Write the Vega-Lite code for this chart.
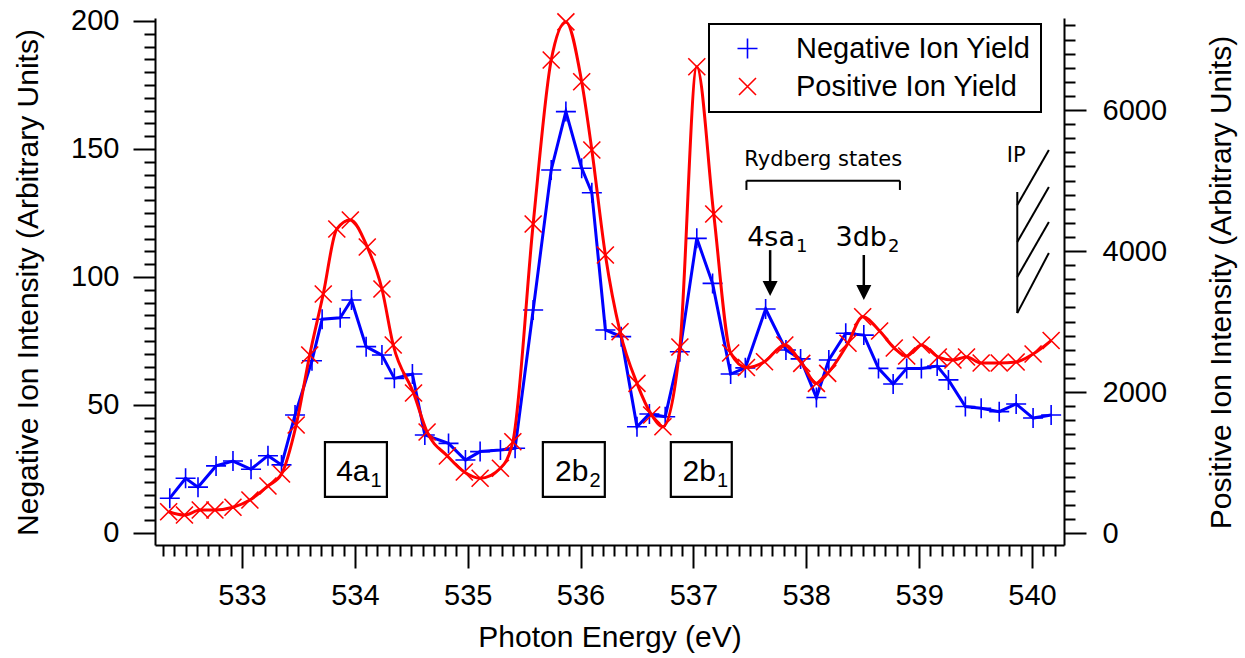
{
  "$schema": "https://vega.github.io/schema/vega-lite/v6.json",
  "width": 909,
  "height": 527,
  "autosize": {"type": "none"},
  "padding": {"left": 155, "top": 18, "right": 181, "bottom": 113},
  "background": "white",
  "config": {
    "view": {"stroke": null},
    "font": "Liberation Sans",
    "legend": {"strokeWidth": 2}
  },
  "datasets": {
    "neg": [
      {"E": 532.36, "I": 13.6}, {"E": 532.50, "I": 21.4}, {"E": 532.61, "I": 17.9}, {"E": 532.77, "I": 26.2},
      {"E": 532.92, "I": 28.1}, {"E": 533.08, "I": 24.9}, {"E": 533.23, "I": 30.2}, {"E": 533.35, "I": 26.6},
      {"E": 533.47, "I": 46.1}, {"E": 533.62, "I": 67.3}, {"E": 533.71, "I": 83.5}, {"E": 533.87, "I": 84.1},
      {"E": 533.97, "I": 91.0}, {"E": 534.10, "I": 72.8}, {"E": 534.24, "I": 69.5}, {"E": 534.35, "I": 60.4},
      {"E": 534.51, "I": 62.1}, {"E": 534.62, "I": 38.3}, {"E": 534.83, "I": 35.0}, {"E": 534.98, "I": 28.5},
      {"E": 535.11, "I": 31.8}, {"E": 535.29, "I": 32.4}, {"E": 535.42, "I": 33.1}, {"E": 535.58, "I": 87.1},
      {"E": 535.74, "I": 141.8}, {"E": 535.87, "I": 164.6}, {"E": 536.01, "I": 142.5}, {"E": 536.10, "I": 132.9},
      {"E": 536.22, "I": 79.3}, {"E": 536.36, "I": 76.7}, {"E": 536.50, "I": 41.5}, {"E": 536.61, "I": 46.5},
      {"E": 536.75, "I": 45.4}, {"E": 536.88, "I": 70.8}, {"E": 537.03, "I": 115.1}, {"E": 537.17, "I": 97.5},
      {"E": 537.33, "I": 62.1}, {"E": 537.46, "I": 64.5}, {"E": 537.64, "I": 87.5}, {"E": 537.82, "I": 71.5},
      {"E": 537.95, "I": 68.0}, {"E": 538.09, "I": 52.9}, {"E": 538.20, "I": 67.6}, {"E": 538.35, "I": 78.0},
      {"E": 538.51, "I": 77.3}, {"E": 538.64, "I": 64.3}, {"E": 538.77, "I": 58.2}, {"E": 538.89, "I": 64.3},
      {"E": 539.02, "I": 64.3}, {"E": 539.16, "I": 65.2}, {"E": 539.26, "I": 59.8}, {"E": 539.41, "I": 49.4},
      {"E": 539.55, "I": 48.7}, {"E": 539.71, "I": 47.4}, {"E": 539.86, "I": 50.4}, {"E": 540.01, "I": 44.9},
      {"E": 540.17, "I": 46.1}
    ],
    "pos": [
      {"E": 532.35, "I": 302}, {"E": 532.49, "I": 255}, {"E": 532.63, "I": 326}, {"E": 532.76, "I": 326},
      {"E": 532.92, "I": 365}, {"E": 533.07, "I": 468}, {"E": 533.23, "I": 667}, {"E": 533.35, "I": 837},
      {"E": 533.48, "I": 1532}, {"E": 533.60, "I": 2525}, {"E": 533.72, "I": 3390}, {"E": 533.84, "I": 4312},
      {"E": 533.96, "I": 4440}, {"E": 534.11, "I": 4057}, {"E": 534.24, "I": 3461}, {"E": 534.34, "I": 2667},
      {"E": 534.52, "I": 1986}, {"E": 534.64, "I": 1433}, {"E": 534.82, "I": 1092}, {"E": 534.97, "I": 865},
      {"E": 535.11, "I": 776}, {"E": 535.29, "I": 918}, {"E": 535.40, "I": 1295}, {"E": 535.58, "I": 4383},
      {"E": 535.74, "I": 6709}, {"E": 535.87, "I": 7250}, {"E": 536.01, "I": 6401}, {"E": 536.10, "I": 5433},
      {"E": 536.22, "I": 3943}, {"E": 536.35, "I": 2855}, {"E": 536.50, "I": 2123}, {"E": 536.63, "I": 1674},
      {"E": 536.73, "I": 1508}, {"E": 536.88, "I": 2638}, {"E": 537.03, "I": 6614}, {"E": 537.18, "I": 4525},
      {"E": 537.33, "I": 2553}, {"E": 537.47, "I": 2348}, {"E": 537.63, "I": 2430}, {"E": 537.81, "I": 2667},
      {"E": 537.96, "I": 2407}, {"E": 538.09, "I": 2123}, {"E": 538.19, "I": 2265}, {"E": 538.37, "I": 2691},
      {"E": 538.50, "I": 3068}, {"E": 538.65, "I": 2865}, {"E": 538.78, "I": 2624}, {"E": 538.89, "I": 2511},
      {"E": 539.02, "I": 2667}, {"E": 539.17, "I": 2496}, {"E": 539.30, "I": 2454}, {"E": 539.42, "I": 2496},
      {"E": 539.55, "I": 2411}, {"E": 539.71, "I": 2411}, {"E": 539.86, "I": 2426}, {"E": 540.01, "I": 2539},
      {"E": 540.17, "I": 2730}
    ],
    "boxes": [
      {"x1": 533.735, "x2": 534.284, "y1": 14.1, "y2": 35.5, "anchor": 534.13, "base": 20.3, "main": "4a", "sub": "1"},
      {"x1": 535.666, "x2": 536.215, "y1": 14.1, "y2": 35.5, "anchor": 536.07, "base": 20.3, "main": "2b", "sub": "2"},
      {"x1": 536.800, "x2": 537.340, "y1": 14.1, "y2": 35.5, "anchor": 537.20, "base": 20.3, "main": "2b", "sub": "1"}
    ],
    "states": [
      {"anchor": 537.90, "base": 112.1, "main": "4sa", "sub": "1"},
      {"anchor": 538.715, "base": 112.1, "main": "3db", "sub": "2"}
    ],
    "notes": [
      {"E": 538.15, "v": 143.5, "t": "Rydberg states"},
      {"E": 539.86, "v": 144.9, "t": "IP"}
    ],
    "thin": [
      {"x1": 537.47, "x2": 538.83, "y1": 137.6, "y2": 137.6},
      {"x1": 537.47, "x2": 537.47, "y1": 137.6, "y2": 134.0},
      {"x1": 538.83, "x2": 538.83, "y1": 137.6, "y2": 134.0},
      {"x1": 539.87, "x2": 539.87, "y1": 133.2, "y2": 85.9},
      {"x1": 539.87, "x2": 540.15, "y1": 128.1, "y2": 149.6},
      {"x1": 539.87, "x2": 540.15, "y1": 113.7, "y2": 135.2},
      {"x1": 539.87, "x2": 540.15, "y1": 100.0, "y2": 121.5},
      {"x1": 539.87, "x2": 540.15, "y1": 85.9, "y2": 109.4}
    ],
    "shafts": [
      {"x1": 537.68, "x2": 537.68, "y1": 110.5, "y2": 97.0},
      {"x1": 538.51, "x2": 538.51, "y1": 108.6, "y2": 95.9}
    ],
    "heads": [
      {"E": 537.68, "v": 95.5},
      {"E": 538.51, "v": 93.9}
    ]
  },
  "layer": [
    {
      "data": {"name": "neg"},
      "mark": {"type": "line", "color": "#0000ff", "strokeWidth": 3},
      "encoding": {
        "x": {
          "field": "E", "type": "quantitative",
          "scale": {"domain": [532.229, 540.284], "nice": false, "zero": false},
          "axis": {
            "orient": "bottom", "values": [533, 534, 535, 536, 537, 538, 539, 540], "format": "d",
            "grid": false, "tickSize": 23, "tickWidth": 2, "tickColor": "black",
            "domainColor": "black", "domainWidth": 2,
            "labelFont": "Liberation Sans", "labelFontSize": 29, "labelColor": "black", "labelPadding": 13,
            "labelFlush": false, "labelOverlap": false, "labelBound": false,
            "title": "Photon Energy (eV)", "titleFont": "Liberation Sans", "titleFontSize": 30,
            "titleFontWeight": "normal", "titleColor": "black",
            "titleX": 454.5, "titleY": 92, "titleAlign": "center", "titleBaseline": "middle"
          }
        },
        "y": {
          "field": "I", "type": "quantitative",
          "scale": {"domain": [-4.69, 201.17], "nice": false, "zero": false},
          "axis": {
            "orient": "left", "values": [0, 50, 100, 150, 200], "format": "d",
            "grid": false, "tickSize": 22, "tickWidth": 2, "tickColor": "black",
            "domainColor": "black", "domainWidth": 2,
            "labelFont": "Liberation Sans", "labelFontSize": 29, "labelColor": "black", "labelPadding": 14,
            "labelFlush": false, "labelOverlap": false, "labelBound": false,
            "title": "Negative Ion Intensity (Arbitrary Units)", "titleFont": "Liberation Sans", "titleFontSize": 30,
            "titleFontWeight": "normal", "titleColor": "black",
            "titleX": -127, "titleY": 264, "titleAngle": 270, "titleAlign": "center", "titleBaseline": "middle"
          }
        }
      }
    },
    {
      "data": {"name": "neg"},
      "mark": {"type": "point", "filled": false, "size": 400, "strokeWidth": 1.6, "opacity": 1},
      "encoding": {
        "x": {
          "field": "E", "type": "quantitative",
          "scale": {"domain": [532.229, 540.284], "nice": false, "zero": false},
          "axis": {
            "orient": "bottom", "labels": false, "domain": false, "grid": false, "title": null,
            "tickSize": 11, "tickWidth": 2, "tickColor": "black",
            "values": [532.3, 532.4, 532.5, 532.6, 532.7, 532.8, 532.9,
              533.1, 533.2, 533.3, 533.4, 533.5, 533.6, 533.7, 533.8, 533.9,
              534.1, 534.2, 534.3, 534.4, 534.5, 534.6, 534.7, 534.8, 534.9,
              535.1, 535.2, 535.3, 535.4, 535.5, 535.6, 535.7, 535.8, 535.9,
              536.1, 536.2, 536.3, 536.4, 536.5, 536.6, 536.7, 536.8, 536.9,
              537.1, 537.2, 537.3, 537.4, 537.5, 537.6, 537.7, 537.8, 537.9,
              538.1, 538.2, 538.3, 538.4, 538.5, 538.6, 538.7, 538.8, 538.9,
              539.1, 539.2, 539.3, 539.4, 539.5, 539.6, 539.7, 539.8, 539.9,
              540.1, 540.2]
          }
        },
        "y": {
          "field": "I", "type": "quantitative",
          "scale": {"domain": [-4.69, 201.17], "nice": false, "zero": false},
          "axis": {
            "orient": "left", "labels": false, "domain": false, "grid": false, "title": null,
            "tickSize": 11, "tickWidth": 2, "tickColor": "black",
            "values": [5, 10, 15, 20, 25, 30, 35, 40, 45, 55, 60, 65, 70, 75, 80, 85, 90, 95,
              105, 110, 115, 120, 125, 130, 135, 140, 145, 155, 160, 165, 170, 175, 180, 185, 190, 195]
          }
        },
        "color": {
          "datum": "Negative Ion Yield", "type": "nominal",
          "scale": {"domain": ["Negative Ion Yield", "Positive Ion Yield"], "range": ["#0000ff", "#ff0000"]},
          "legend": {
            "orient": "none", "legendX": 554, "legendY": 6, "title": null,
            "strokeColor": "black", "fillColor": "white", "padding": 10,
            "labelFont": "Liberation Sans", "labelFontSize": 29, "labelColor": "black", "labelLimit": 400,
            "symbolSize": 400, "symbolStrokeWidth": 1.6, "symbolOffset": 14, "labelOffset": 34, "rowPadding": 8
          }
        },
        "shape": {
          "datum": "Negative Ion Yield", "type": "nominal",
          "scale": {"domain": ["Negative Ion Yield", "Positive Ion Yield"],
            "range": ["M-1,0L1,0M0,-1L0,1", "M-0.85,-0.85L0.85,0.85M-0.85,0.85L0.85,-0.85"]},
          "legend": {
            "orient": "none", "legendX": 554, "legendY": 6, "title": null,
            "strokeColor": "black", "fillColor": "white", "padding": 10,
            "labelFont": "Liberation Sans", "labelFontSize": 29, "labelColor": "black", "labelLimit": 400,
            "symbolSize": 400, "symbolStrokeWidth": 1.6, "symbolOffset": 14, "labelOffset": 34, "rowPadding": 8
          }
        }
      }
    },
    {
      "data": {"name": "pos"},
      "mark": {"type": "line", "color": "#ff0000", "strokeWidth": 3, "interpolate": "monotone"},
      "encoding": {
        "x": {
          "field": "E", "type": "quantitative",
          "scale": {"domain": [532.229, 540.284], "nice": false, "zero": false},
          "axis": null
        },
        "y": {
          "field": "I", "type": "quantitative",
          "scale": {"domain": [-170, 7305], "nice": false, "zero": false},
          "axis": {
            "orient": "right", "values": [0, 2000, 4000, 6000], "format": "d",
            "grid": false, "tickSize": 22, "tickWidth": 2, "tickColor": "black",
            "domainColor": "black", "domainWidth": 2,
            "labelFont": "Liberation Sans", "labelFontSize": 29, "labelColor": "black", "labelPadding": 16,
            "labelFlush": false, "labelOverlap": false, "labelBound": false,
            "title": "Positive Ion Intensity (Arbitrary Units)", "titleFont": "Liberation Sans", "titleFontSize": 30,
            "titleFontWeight": "normal", "titleColor": "black",
            "titleX": 157, "titleY": 264, "titleAngle": 270, "titleAlign": "center", "titleBaseline": "middle"
          }
        }
      }
    },
    {
      "data": {"name": "pos"},
      "mark": {"type": "point", "filled": false, "size": 400, "strokeWidth": 1.6, "opacity": 1},
      "encoding": {
        "x": {
          "field": "E", "type": "quantitative",
          "scale": {"domain": [532.229, 540.284], "nice": false, "zero": false},
          "axis": null
        },
        "y": {
          "field": "I", "type": "quantitative",
          "scale": {"domain": [-170, 7305], "nice": false, "zero": false},
          "axis": {
            "orient": "right", "labels": false, "domain": false, "grid": false, "title": null,
            "tickSize": 11, "tickWidth": 2, "tickColor": "black",
            "values": [200, 400, 600, 800, 1000, 1200, 1400, 1600, 1800, 2200, 2400, 2600, 2800, 3000, 3200, 3400, 3600, 3800,
              4200, 4400, 4600, 4800, 5000, 5200, 5400, 5600, 5800, 6200, 6400, 6600, 6800, 7000, 7200]
          }
        },
        "color": {
          "datum": "Positive Ion Yield", "type": "nominal",
          "scale": {"domain": ["Negative Ion Yield", "Positive Ion Yield"], "range": ["#0000ff", "#ff0000"]}
        },
        "shape": {
          "datum": "Positive Ion Yield", "type": "nominal",
          "scale": {"domain": ["Negative Ion Yield", "Positive Ion Yield"],
            "range": ["M-1,0L1,0M0,-1L0,1", "M-0.85,-0.85L0.85,0.85M-0.85,0.85L0.85,-0.85"]}
        }
      }
    },
    {
      "data": {"name": "boxes"},
      "mark": {"type": "rect", "filled": false, "stroke": "black", "strokeWidth": 2.2},
      "encoding": {
        "x": {"field": "x1", "type": "quantitative", "scale": {"domain": [532.229, 540.284], "nice": false, "zero": false}, "axis": null},
        "x2": {"field": "x2"},
        "y": {"field": "y1", "type": "quantitative", "scale": {"domain": [-4.69, 201.17], "nice": false, "zero": false}, "axis": null},
        "y2": {"field": "y2"}
      }
    },
    {
      "data": {"name": "boxes"},
      "mark": {"type": "text", "font": "Liberation Sans", "fontSize": 30, "align": "right", "baseline": "alphabetic", "color": "black"},
      "encoding": {
        "x": {"field": "anchor", "type": "quantitative", "scale": {"domain": [532.229, 540.284], "nice": false, "zero": false}, "axis": null},
        "y": {"field": "base", "type": "quantitative", "scale": {"domain": [-4.69, 201.17], "nice": false, "zero": false}, "axis": null},
        "text": {"field": "main"}
      }
    },
    {
      "data": {"name": "boxes"},
      "mark": {"type": "text", "font": "Liberation Sans", "fontSize": 20, "align": "left", "baseline": "alphabetic", "dx": 1, "dy": 6, "color": "black"},
      "encoding": {
        "x": {"field": "anchor", "type": "quantitative", "scale": {"domain": [532.229, 540.284], "nice": false, "zero": false}, "axis": null},
        "y": {"field": "base", "type": "quantitative", "scale": {"domain": [-4.69, 201.17], "nice": false, "zero": false}, "axis": null},
        "text": {"field": "sub"}
      }
    },
    {
      "data": {"name": "states"},
      "mark": {"type": "text", "font": "DejaVu Sans", "fontSize": 27, "align": "right", "baseline": "alphabetic", "color": "black"},
      "encoding": {
        "x": {"field": "anchor", "type": "quantitative", "scale": {"domain": [532.229, 540.284], "nice": false, "zero": false}, "axis": null},
        "y": {"field": "base", "type": "quantitative", "scale": {"domain": [-4.69, 201.17], "nice": false, "zero": false}, "axis": null},
        "text": {"field": "main"}
      }
    },
    {
      "data": {"name": "states"},
      "mark": {"type": "text", "font": "DejaVu Sans", "fontSize": 18, "align": "left", "baseline": "alphabetic", "dx": 1, "dy": 6, "color": "black"},
      "encoding": {
        "x": {"field": "anchor", "type": "quantitative", "scale": {"domain": [532.229, 540.284], "nice": false, "zero": false}, "axis": null},
        "y": {"field": "base", "type": "quantitative", "scale": {"domain": [-4.69, 201.17], "nice": false, "zero": false}, "axis": null},
        "text": {"field": "sub"}
      }
    },
    {
      "data": {"name": "notes"},
      "mark": {"type": "text", "font": "DejaVu Sans", "fontSize": 21, "align": "center", "baseline": "alphabetic", "color": "black"},
      "encoding": {
        "x": {"field": "E", "type": "quantitative", "scale": {"domain": [532.229, 540.284], "nice": false, "zero": false}, "axis": null},
        "y": {"field": "v", "type": "quantitative", "scale": {"domain": [-4.69, 201.17], "nice": false, "zero": false}, "axis": null},
        "text": {"field": "t"}
      }
    },
    {
      "data": {"name": "thin"},
      "mark": {"type": "rule", "color": "black", "strokeWidth": 2},
      "encoding": {
        "x": {"field": "x1", "type": "quantitative", "scale": {"domain": [532.229, 540.284], "nice": false, "zero": false}, "axis": null},
        "x2": {"field": "x2"},
        "y": {"field": "y1", "type": "quantitative", "scale": {"domain": [-4.69, 201.17], "nice": false, "zero": false}, "axis": null},
        "y2": {"field": "y2"}
      }
    },
    {
      "data": {"name": "shafts"},
      "mark": {"type": "rule", "color": "black", "strokeWidth": 2.5},
      "encoding": {
        "x": {"field": "x1", "type": "quantitative", "scale": {"domain": [532.229, 540.284], "nice": false, "zero": false}, "axis": null},
        "x2": {"field": "x2"},
        "y": {"field": "y1", "type": "quantitative", "scale": {"domain": [-4.69, 201.17], "nice": false, "zero": false}, "axis": null},
        "y2": {"field": "y2"}
      }
    },
    {
      "data": {"name": "heads"},
      "mark": {"type": "point", "shape": "M-1,-1L1,-1L0,1Z", "filled": true, "color": "black", "size": 225, "opacity": 1},
      "encoding": {
        "x": {"field": "E", "type": "quantitative", "scale": {"domain": [532.229, 540.284], "nice": false, "zero": false}, "axis": null},
        "y": {"field": "v", "type": "quantitative", "scale": {"domain": [-4.69, 201.17], "nice": false, "zero": false}, "axis": null}
      }
    }
  ],
  "resolve": {
    "scale": {"y": "independent"},
    "axis": {"x": "independent", "y": "independent"}
  }
}
